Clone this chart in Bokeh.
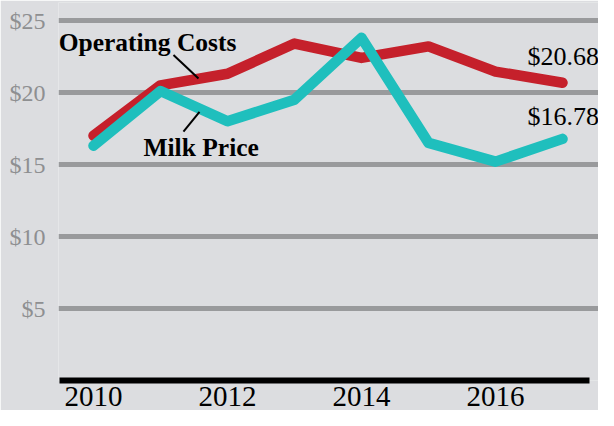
from bokeh.plotting import figure
from bokeh.models import Label, FixedTicker, Range1d
from bokeh.embed import file_html
from bokeh.resources import INLINE

years = [2010, 2011, 2012, 2013, 2014, 2015, 2016, 2017]
operating_costs = [17.0, 20.5, 21.3, 23.4, 22.4, 23.2, 21.45, 20.68]
milk_price = [16.3, 20.1, 18.0, 19.5, 23.8, 16.5, 15.2, 16.78]
x_ticks = [2010, 2012, 2014, 2016]
y_ticks = [5, 10, 15, 20, 25]
y_tick_labels = ["$5", "$10", "$15", "$20", "$25"]

BG = "#dcdde0"
RED = "#c5202b"
TEAL = "#1fbfbd"
GRID = "#999a9c"
SERIF = "Liberation Serif"

p = figure(width=598, height=410, output_backend="svg", toolbar_location=None,
           x_range=Range1d(2009.478, 2017.537), y_range=Range1d(0, 26.25),
           min_border_left=58, min_border_right=0, min_border_top=2,
           min_border_bottom=30)
p.background_fill_color = BG
p.border_fill_color = BG
p.outline_line_color = None

p.xgrid.grid_line_color = None
p.ygrid.grid_line_color = GRID
p.ygrid.grid_line_width = 5

p.yaxis.ticker = FixedTicker(ticks=y_ticks)
p.yaxis.major_label_overrides = {t: l for t, l in zip(y_ticks, y_tick_labels)}
p.yaxis.axis_line_color = None
p.yaxis.major_tick_line_color = None
p.yaxis.minor_tick_line_color = None
p.yaxis.major_label_text_font = SERIF
p.yaxis.major_label_text_font_size = "24px"
p.yaxis.major_label_text_color = "#8e8f91"
p.yaxis.major_label_standoff = 7

p.xaxis.ticker = FixedTicker(ticks=x_ticks)
p.xaxis.bounds = (2009.5, 2017.4)
p.xaxis.axis_line_color = "black"
p.xaxis.axis_line_width = 6
p.xaxis.major_tick_line_color = None
p.xaxis.minor_tick_line_color = None
p.xaxis.major_label_text_font = SERIF
p.xaxis.major_label_text_font_size = "29px"
p.xaxis.major_label_text_color = "black"
p.xaxis.major_label_standoff = 0

p.line(years, operating_costs, line_color=RED, line_width=10.5,
       line_cap="round", line_join="round")
p.line(years, milk_price, line_color=TEAL, line_width=10.5,
       line_cap="round", line_join="round")

# leader lines for series names
p.segment(x0=[2011.194, 2011.343], y0=[22.61, 17.28],
          x1=[2011.567, 2011.582], y1=[20.97, 18.65],
          line_color="black", line_width=2)

p.add_layout(Label(x=2009.48, y=22.95, y_offset=8, text="Operating Costs",
                   text_font=SERIF, text_font_style="bold",
                   text_font_size="25.5px", text_color="black",
                   text_baseline="alphabetic"))
p.add_layout(Label(x=2010.746, y=15.64, y_offset=8, text="Milk Price",
                   text_font=SERIF, text_font_style="bold",
                   text_font_size="25.5px", text_color="black",
                   text_baseline="alphabetic"))

for vals, dy in ((operating_costs, 26), (milk_price, 22)):
    p.add_layout(Label(x=years[-1], y=vals[-1], x_offset=-35, y_offset=dy,
                       text=f"${vals[-1]:.2f}", text_font=SERIF,
                       text_font_size="26px", text_color="black",
                       text_baseline="alphabetic"))

open("out.html", "w").write(file_html(p, INLINE))
